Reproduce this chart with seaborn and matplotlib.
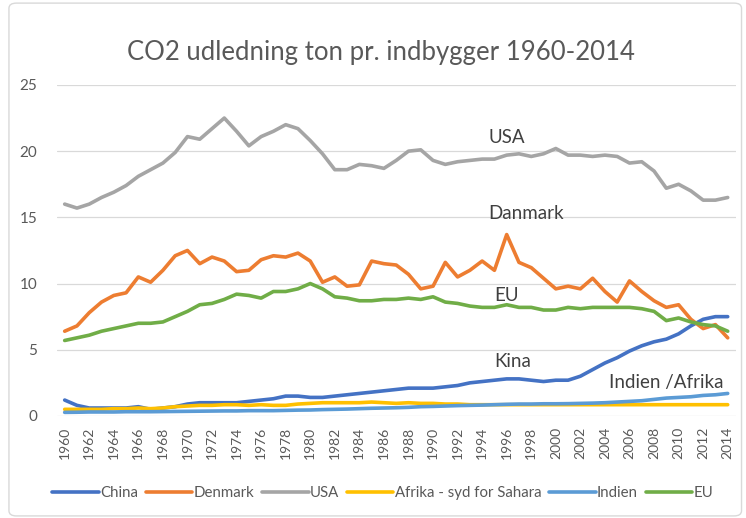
import numpy as np
import pandas as pd
import seaborn as sns
import matplotlib.pyplot as plt
from matplotlib.patches import FancyBboxPatch

years = list(range(1960, 2015))

china = [1.2, 0.8, 0.6, 0.6, 0.6, 0.6, 0.7, 0.5, 0.6, 0.7,
         0.9, 1.0, 1.0, 1.0, 1.0, 1.1, 1.2, 1.3, 1.5, 1.5,
         1.4, 1.4, 1.5, 1.6, 1.7, 1.8, 1.9, 2.0, 2.1, 2.1,
         2.1, 2.2, 2.3, 2.5, 2.6, 2.7, 2.8, 2.8, 2.7, 2.6,
         2.7, 2.7, 3.0, 3.5, 4.0, 4.4, 4.9, 5.3, 5.6, 5.8,
         6.2, 6.8, 7.3, 7.5, 7.5]
denmark = [6.4, 6.8, 7.8, 8.6, 9.1, 9.3, 10.5, 10.1, 11.0, 12.1,
           12.5, 11.5, 12.0, 11.7, 10.9, 11.0, 11.8, 12.1, 12.0, 12.3,
           11.7, 10.1, 10.5, 9.8, 9.9, 11.7, 11.5, 11.4, 10.7, 9.6,
           9.8, 11.6, 10.5, 11.0, 11.7, 11.0, 13.7, 11.6, 11.2, 10.4,
           9.6, 9.8, 9.6, 10.4, 9.4, 8.6, 10.2, 9.4, 8.7, 8.2,
           8.4, 7.3, 6.6, 6.9, 5.9]
usa = [16.0, 15.7, 16.0, 16.5, 16.9, 17.4, 18.1, 18.6, 19.1, 19.9,
       21.1, 20.9, 21.7, 22.5, 21.5, 20.4, 21.1, 21.5, 22.0, 21.7,
       20.8, 19.8, 18.6, 18.6, 19.0, 18.9, 18.7, 19.3, 20.0, 20.1,
       19.3, 19.0, 19.2, 19.3, 19.4, 19.4, 19.7, 19.8, 19.6, 19.8,
       20.2, 19.7, 19.7, 19.6, 19.7, 19.6, 19.1, 19.2, 18.5, 17.2,
       17.5, 17.0, 16.3, 16.3, 16.5]
afrika = [0.5, 0.5, 0.5, 0.5, 0.55, 0.55, 0.6, 0.55, 0.6, 0.7,
          0.75, 0.8, 0.8, 0.85, 0.85, 0.8, 0.85, 0.8, 0.8, 0.9,
          0.95, 1.0, 1.0, 1.0, 1.0, 1.05, 1.0, 0.95, 1.0, 0.95,
          0.95, 0.9, 0.9, 0.85, 0.85, 0.85, 0.85, 0.85, 0.85, 0.85,
          0.85, 0.85, 0.85, 0.85, 0.85, 0.85, 0.85, 0.85, 0.85, 0.85,
          0.85, 0.85, 0.85, 0.85, 0.85]
indien = [0.27, 0.28, 0.3, 0.3, 0.3, 0.32, 0.32, 0.32, 0.33, 0.34,
          0.35, 0.36, 0.37, 0.38, 0.38, 0.4, 0.4, 0.4, 0.42, 0.44,
          0.45, 0.48, 0.5, 0.52, 0.55, 0.58, 0.6, 0.62, 0.65, 0.7,
          0.72, 0.75, 0.78, 0.8, 0.82, 0.85, 0.88, 0.9, 0.9, 0.92,
          0.92, 0.93, 0.95, 0.97, 1.0, 1.05, 1.1, 1.15, 1.25, 1.35,
          1.4, 1.45, 1.55, 1.6, 1.7]
eu = [5.7, 5.9, 6.1, 6.4, 6.6, 6.8, 7.0, 7.0, 7.1, 7.5,
      7.9, 8.4, 8.5, 8.8, 9.2, 9.1, 8.9, 9.4, 9.4, 9.6,
      10.0, 9.6, 9.0, 8.9, 8.7, 8.7, 8.8, 8.8, 8.9, 8.8,
      9.0, 8.6, 8.5, 8.3, 8.2, 8.2, 8.4, 8.2, 8.2, 8.0,
      8.0, 8.2, 8.1, 8.2, 8.2, 8.2, 8.2, 8.1, 7.9, 7.2,
      7.4, 7.1, 6.9, 6.8, 6.4]

names = ["China", "Denmark", "USA", "Afrika - syd for Sahara", "Indien", "EU"]
colors = ["#4472C4", "#ED7D31", "#A5A5A5", "#FFC000", "#5B9BD5", "#70AD47"]

series = {"China": china, "Denmark": denmark, "USA": usa,
          "Afrika - syd for Sahara": afrika, "Indien": indien, "EU": eu}
df = pd.DataFrame({"year": years, **series}).melt(id_vars="year", var_name="land", value_name="co2")

sns.set_style("white")
plt.rcParams['font.family'] = ['Lato', 'DejaVu Sans']

fig = plt.figure(figsize=(7.46, 5.18), dpi=100)
ax = fig.add_axes([0.076, 0.197, 0.911, 0.639])

sns.lineplot(data=df, x="year", y="co2", hue="land", hue_order=names,
             palette=colors, linewidth=2.6, ax=ax, legend=True)

ax.set_xlim(1959.35, 2014.7)
ax.set_ylim(0, 25)
ax.set_yticks([0, 5, 10, 15, 20, 25])
ax.set_xticks(years[::2])
ax.set_xticklabels([str(y) for y in years[::2]], rotation=90)
ax.tick_params(axis='x', labelsize=10, colors="#595959", length=0, pad=8)
ax.tick_params(axis='y', labelsize=11, colors="#595959", length=0, pad=14)
ax.grid(axis='y', color="#D9D9D9", linewidth=0.9)
ax.set_axisbelow(True)
for s in ax.spines.values():
    s.set_visible(False)
ax.set_xlabel("")
ax.set_ylabel("")

ax.set_title("CO2 udledning ton pr. indbygger 1960-2014", fontsize=18.5,
             color="#595959", pad=18, x=0.477)

# labels beside the lines
lab = dict(fontsize=13.5, color="#404040", va="center", ha="left")
ax.text(1994.5, 21.0, "USA", **lab)
ax.text(1994.5, 15.3, "Danmark", **lab)
ax.text(1995.0, 9.1, "EU", **lab)
ax.text(1995.0, 4.1, "Kina", **lab)
ax.text(2004.3, 2.5, "Indien /Afrika", **lab)

handles, labels = ax.get_legend_handles_labels()
ax.legend(handles, labels, loc="center", bbox_to_anchor=(0.48, -0.233),
          ncol=6, frameon=False, fontsize=10.8, handlelength=3.1,
          handletextpad=0.1, columnspacing=0.5, labelcolor="#595959")

fig.patches.append(FancyBboxPatch((0.012, 0.004), 0.982, 0.99,
                                  boxstyle="round,pad=0,rounding_size=0.01",
                                  transform=fig.transFigure, fill=False,
                                  edgecolor="#D9D9D9", linewidth=1))

fig.savefig("out.png", dpi=100)
